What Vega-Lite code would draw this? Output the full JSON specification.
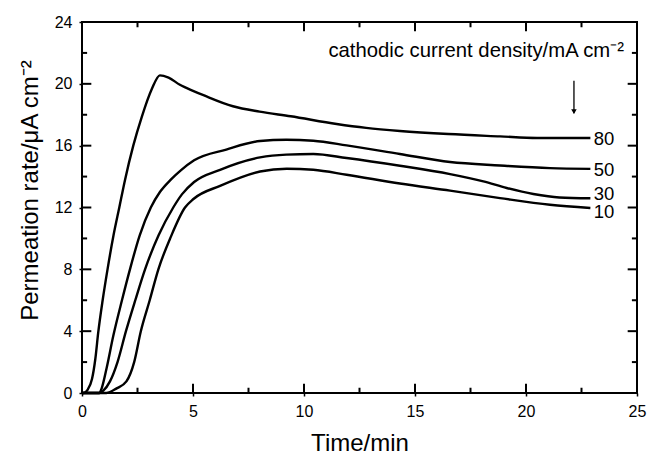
{
  "$schema": "https://vega.github.io/schema/vega-lite/v6.json",
  "width": 555,
  "height": 371,
  "autosize": {"type": "none"},
  "padding": {"left": 82, "top": 22, "right": 12, "bottom": 62},
  "background": "white",
  "config": {
    "view": {"stroke": "black", "strokeWidth": 2},
    "font": "Liberation Sans",
    "axis": {
      "domain": false,
      "grid": false,
      "labelFont": "Liberation Sans",
      "labelFontSize": 16,
      "labelColor": "black",
      "tickColor": "black",
      "tickWidth": 1.5,
      "titleFont": "Liberation Sans",
      "titleFontSize": 24,
      "titleFontWeight": "normal",
      "titleColor": "black"
    }
  },
  "datasets": {
    "curves": [
      {"cd": "80", "t": 0, "v": 0},
      {"cd": "80", "t": 0.06, "v": 0},
      {"cd": "80", "t": 0.25, "v": 0.2},
      {"cd": "80", "t": 0.45, "v": 0.9},
      {"cd": "80", "t": 0.6, "v": 2.2},
      {"cd": "80", "t": 0.73, "v": 3.9},
      {"cd": "80", "t": 0.93, "v": 6.0},
      {"cd": "80", "t": 1.15, "v": 8.0},
      {"cd": "80", "t": 1.42, "v": 10.2},
      {"cd": "80", "t": 1.68, "v": 12.0},
      {"cd": "80", "t": 1.94, "v": 13.8},
      {"cd": "80", "t": 2.31, "v": 16.0},
      {"cd": "80", "t": 2.69, "v": 17.85},
      {"cd": "80", "t": 3.14, "v": 19.65},
      {"cd": "80", "t": 3.51, "v": 20.55},
      {"cd": "80", "t": 3.9, "v": 20.4},
      {"cd": "80", "t": 4.41, "v": 19.94},
      {"cd": "80", "t": 5.0, "v": 19.55},
      {"cd": "80", "t": 5.5, "v": 19.25},
      {"cd": "80", "t": 6.8, "v": 18.55},
      {"cd": "80", "t": 8.0, "v": 18.2},
      {"cd": "80", "t": 9.4, "v": 17.9},
      {"cd": "80", "t": 11.47, "v": 17.4},
      {"cd": "80", "t": 12.8, "v": 17.15},
      {"cd": "80", "t": 14.32, "v": 16.95},
      {"cd": "80", "t": 16.5, "v": 16.75},
      {"cd": "80", "t": 18.83, "v": 16.6},
      {"cd": "80", "t": 20.5, "v": 16.5},
      {"cd": "80", "t": 22.9, "v": 16.5},
      {"cd": "50", "t": 0, "v": 0},
      {"cd": "50", "t": 0.78, "v": 0},
      {"cd": "50", "t": 0.89, "v": 0.32},
      {"cd": "50", "t": 1.11, "v": 1.62},
      {"cd": "50", "t": 1.41, "v": 3.7},
      {"cd": "50", "t": 1.8, "v": 6.0},
      {"cd": "50", "t": 2.16, "v": 8.0},
      {"cd": "50", "t": 2.6, "v": 10.2},
      {"cd": "50", "t": 3.1, "v": 12.0},
      {"cd": "50", "t": 3.51, "v": 13.0},
      {"cd": "50", "t": 4.0, "v": 13.8},
      {"cd": "50", "t": 4.45, "v": 14.4},
      {"cd": "50", "t": 5.05, "v": 15.05},
      {"cd": "50", "t": 6.5, "v": 15.75},
      {"cd": "50", "t": 8.02, "v": 16.3},
      {"cd": "50", "t": 9.2, "v": 16.38},
      {"cd": "50", "t": 10.42, "v": 16.32},
      {"cd": "50", "t": 11.92, "v": 16.02},
      {"cd": "50", "t": 14.32, "v": 15.46},
      {"cd": "50", "t": 16.58, "v": 14.94},
      {"cd": "50", "t": 18.83, "v": 14.72},
      {"cd": "50", "t": 21.08, "v": 14.55},
      {"cd": "50", "t": 22.9, "v": 14.5},
      {"cd": "30", "t": 0, "v": 0},
      {"cd": "30", "t": 0.78, "v": 0},
      {"cd": "30", "t": 0.96, "v": 0.15},
      {"cd": "30", "t": 1.26, "v": 0.75},
      {"cd": "30", "t": 1.6, "v": 2.0},
      {"cd": "30", "t": 1.98, "v": 4.0},
      {"cd": "30", "t": 2.4, "v": 6.0},
      {"cd": "30", "t": 2.84, "v": 8.0},
      {"cd": "30", "t": 3.45, "v": 10.2},
      {"cd": "30", "t": 4.11, "v": 12.0},
      {"cd": "30", "t": 4.5, "v": 12.85},
      {"cd": "30", "t": 5.05, "v": 13.65},
      {"cd": "30", "t": 6.22, "v": 14.44},
      {"cd": "30", "t": 8.02, "v": 15.24},
      {"cd": "30", "t": 9.2, "v": 15.42},
      {"cd": "30", "t": 10.42, "v": 15.46},
      {"cd": "30", "t": 11.92, "v": 15.2},
      {"cd": "30", "t": 14.32, "v": 14.7},
      {"cd": "30", "t": 16.58, "v": 14.16},
      {"cd": "30", "t": 18.08, "v": 13.69},
      {"cd": "30", "t": 19.13, "v": 13.26},
      {"cd": "30", "t": 20.33, "v": 12.87},
      {"cd": "30", "t": 21.5, "v": 12.65},
      {"cd": "30", "t": 22.9, "v": 12.6},
      {"cd": "10", "t": 0, "v": 0},
      {"cd": "10", "t": 1.1, "v": 0},
      {"cd": "10", "t": 1.56, "v": 0.3},
      {"cd": "10", "t": 2.0, "v": 0.75},
      {"cd": "10", "t": 2.35, "v": 2.0},
      {"cd": "10", "t": 2.65, "v": 4.0},
      {"cd": "10", "t": 3.05, "v": 6.0},
      {"cd": "10", "t": 3.44, "v": 8.0},
      {"cd": "10", "t": 4.0, "v": 10.1},
      {"cd": "10", "t": 4.64, "v": 12.0},
      {"cd": "10", "t": 5.02, "v": 12.55},
      {"cd": "10", "t": 6.22, "v": 13.4},
      {"cd": "10", "t": 8.02, "v": 14.33},
      {"cd": "10", "t": 9.22, "v": 14.51},
      {"cd": "10", "t": 10.42, "v": 14.44},
      {"cd": "10", "t": 11.92, "v": 14.12},
      {"cd": "10", "t": 14.32, "v": 13.55},
      {"cd": "10", "t": 16.58, "v": 13.09},
      {"cd": "10", "t": 18.83, "v": 12.61},
      {"cd": "10", "t": 21.08, "v": 12.18},
      {"cd": "10", "t": 22.9, "v": 11.97}
    ],
    "labels": [
      {"t": 23.05, "v": 16.45, "text": "80"},
      {"t": 23.05, "v": 14.44, "text": "50"},
      {"t": 23.05, "v": 12.9, "text": "30"},
      {"t": 23.05, "v": 11.72, "text": "10"}
    ],
    "note": [
      {"t": 11.1, "v": 21.73, "text": "cathodic current density/mA cm⁻²"}
    ],
    "arrow": [
      {"t": 22.16, "v1": 20.2, "v2": 18.1, "vh": 18.2}
    ],
    "xmajor": [{"t": 5}, {"t": 10}, {"t": 15}, {"t": 20}],
    "xminor": [{"t": 2.5}, {"t": 7.5}, {"t": 12.5}, {"t": 17.5}, {"t": 22.5}],
    "ymajor": [{"v": 4}, {"v": 8}, {"v": 12}, {"v": 16}, {"v": 20}],
    "yminor": [{"v": 2}, {"v": 6}, {"v": 10}, {"v": 14}, {"v": 18}, {"v": 22}]
  },
  "layer": [
    {
      "data": {"name": "curves"},
      "mark": {"type": "line", "interpolate": "monotone", "color": "black", "strokeWidth": 2.4},
      "encoding": {
        "x": {
          "field": "t", "type": "quantitative",
          "scale": {"domain": [0, 25], "nice": false},
          "axis": {
            "orient": "bottom",
            "title": "Time/min",
            "values": [0, 5, 10, 15, 20, 25],
            "ticks": true,
            "tickSize": 3,
            "labelPadding": 7,
            "labelFlush": false,
            "labelOverlap": false,
            "titleBaseline": "alphabetic",
            "titleY": 57
          }
        },
        "y": {
          "field": "v", "type": "quantitative",
          "scale": {"domain": [0, 24], "nice": false},
          "axis": {
            "orient": "left",
            "title": "Permeation rate/μA cm⁻²",
            "values": [0, 4, 8, 12, 16, 20, 24],
            "ticks": true,
            "tickSize": 3,
            "labelPadding": 7,
            "labelFlush": false,
            "labelOverlap": false,
            "titleBaseline": "alphabetic",
            "titleX": -45,
            "titleY": 168,
            "titleAngle": -90
          }
        },
        "detail": {"field": "cd", "type": "nominal"}
      }
    },
    {
      "data": {"name": "xmajor"},
      "mark": {"type": "rule", "color": "black", "strokeWidth": 2, "opacity": 1},
      "encoding": {
        "x": {"field": "t", "type": "quantitative"},
        "y": {"datum": 0, "type": "quantitative"},
        "y2": {"datum": 0.6}
      }
    },
    {
      "data": {"name": "xmajor"},
      "mark": {"type": "rule", "color": "black", "strokeWidth": 2, "opacity": 1},
      "encoding": {
        "x": {"field": "t", "type": "quantitative"},
        "y": {"datum": 24, "type": "quantitative"},
        "y2": {"datum": 23.4}
      }
    },
    {
      "data": {"name": "xminor"},
      "mark": {"type": "rule", "color": "black", "strokeWidth": 2, "opacity": 1},
      "encoding": {
        "x": {"field": "t", "type": "quantitative"},
        "y": {"datum": 0, "type": "quantitative"},
        "y2": {"datum": 0.34}
      }
    },
    {
      "data": {"name": "xminor"},
      "mark": {"type": "rule", "color": "black", "strokeWidth": 2, "opacity": 1},
      "encoding": {
        "x": {"field": "t", "type": "quantitative"},
        "y": {"datum": 24, "type": "quantitative"},
        "y2": {"datum": 23.66}
      }
    },
    {
      "data": {"name": "ymajor"},
      "mark": {"type": "rule", "color": "black", "strokeWidth": 2, "opacity": 1},
      "encoding": {
        "y": {"field": "v", "type": "quantitative"},
        "x": {"datum": 0, "type": "quantitative"},
        "x2": {"datum": 0.42}
      }
    },
    {
      "data": {"name": "ymajor"},
      "mark": {"type": "rule", "color": "black", "strokeWidth": 2, "opacity": 1},
      "encoding": {
        "y": {"field": "v", "type": "quantitative"},
        "x": {"datum": 25, "type": "quantitative"},
        "x2": {"datum": 24.58}
      }
    },
    {
      "data": {"name": "yminor"},
      "mark": {"type": "rule", "color": "black", "strokeWidth": 2, "opacity": 1},
      "encoding": {
        "y": {"field": "v", "type": "quantitative"},
        "x": {"datum": 0, "type": "quantitative"},
        "x2": {"datum": 0.23}
      }
    },
    {
      "data": {"name": "yminor"},
      "mark": {"type": "rule", "color": "black", "strokeWidth": 2, "opacity": 1},
      "encoding": {
        "y": {"field": "v", "type": "quantitative"},
        "x": {"datum": 25, "type": "quantitative"},
        "x2": {"datum": 24.77}
      }
    },
    {
      "data": {"name": "labels"},
      "mark": {"type": "text", "align": "left", "baseline": "middle", "fontSize": 18.5, "color": "black", "font": "Liberation Sans"},
      "encoding": {
        "x": {"field": "t", "type": "quantitative"},
        "y": {"field": "v", "type": "quantitative"},
        "text": {"field": "text"}
      }
    },
    {
      "data": {"name": "arrow"},
      "mark": {"type": "rule", "color": "black", "strokeWidth": 1.3},
      "encoding": {
        "x": {"field": "t", "type": "quantitative"},
        "y": {"field": "v1", "type": "quantitative"},
        "y2": {"field": "v2"}
      }
    },
    {
      "data": {"name": "arrow"},
      "mark": {"type": "point", "shape": "triangle-down", "filled": true, "color": "black", "size": 30, "opacity": 1},
      "encoding": {
        "x": {"field": "t", "type": "quantitative"},
        "y": {"field": "vh", "type": "quantitative"}
      }
    },
    {
      "data": {"name": "note"},
      "mark": {"type": "text", "align": "left", "baseline": "alphabetic", "fontSize": 20.3, "color": "black", "font": "Liberation Sans"},
      "encoding": {
        "x": {"field": "t", "type": "quantitative"},
        "y": {"field": "v", "type": "quantitative"},
        "text": {"field": "text"}
      }
    }
  ]
}
